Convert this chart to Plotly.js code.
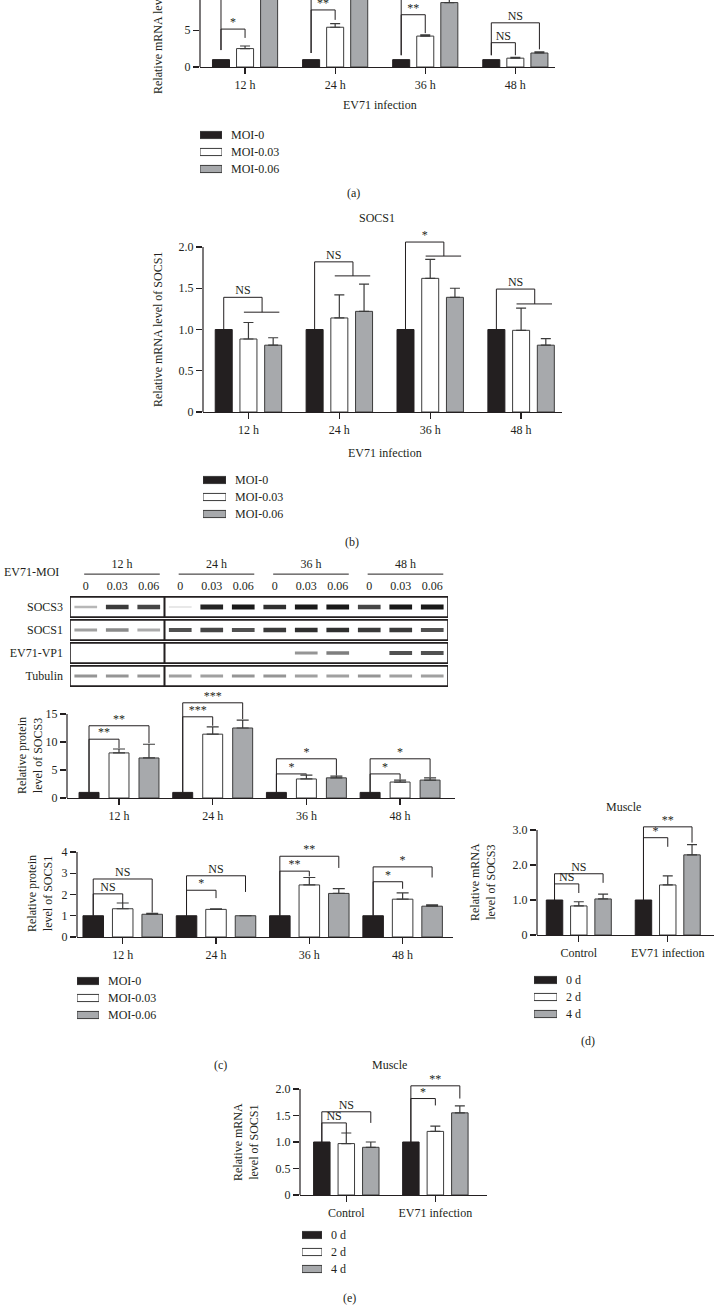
<!DOCTYPE html>
<html>
<head>
<meta charset="utf-8">
<script src="https://cdn.plot.ly/plotly-3.0.1.min.js"></script>
<style>
  body { margin: 0; background: #fff; }
  #fig { width: 714px; height: 1315px; }
</style>
</head>
<body>
<div id="fig"></div>
<script>
// ---- data ----
const timeLabels = ['12 h', '24 h', '36 h', '48 h'];
const tissueLabels = ['Control', 'EV71 infection'];
const moiNames = ['MOI-0', 'MOI-0.03', 'MOI-0.06'];
const dayNames = ['0 d', '2 d', '4 d'];

// (a) SOCS3 mRNA (top of the panel is cropped)
const aMoi0 = [1, 1, 1, 1];
const aMoi003 = [2.5, 5.4, 4.2, 1.2];
const aMoi006 = [12.5, 14.0, 8.75, 1.9];
const aErr003 = [0.35, 0.5, 0.15, 0.1];
const aErr006 = [0.8, 1.0, 0.6, 0.15];
// [group, bar, line height, left end, right end, label]
const aSig = [
  [0, 1, 5.15, 2.3, 3.95, '*'], [0, 2, 13.5, 2.3, 13.6, '**'],
  [1, 1, 7.75, 1.9, 6.4, '**'], [1, 2, 16, 1.9, 15.2, '**'],
  [2, 1, 7.1, 1.6, 4.6, '**'], [2, 2, 11, 1.6, 9.6, '**'],
  [3, 1, 3.3, 1.6, 1.6, 'NS'], [3, 2, 6.0, 1.6, 2.4, 'NS']
];

// (b) SOCS1 mRNA
const bMoi0 = [1, 1, 1, 1];
const bMoi003 = [0.885, 1.14, 1.62, 0.99];
const bMoi006 = [0.81, 1.22, 1.39, 0.81];
const bErr003 = [0.2, 0.28, 0.23, 0.27];
const bErr006 = [0.09, 0.33, 0.11, 0.08];
// [group, upper line, lower line, label]
const bSig = [[0, 1.39, 1.21, 'NS'], [1, 1.82, 1.65, 'NS'], [2, 2.06, 1.89, '*'], [3, 1.49, 1.31, 'NS']];

// (c) western blot, band intensity 0..1 per lane
const laneDoses = ['0', '0.03', '0.06'];
const blotRows = ['SOCS3', 'SOCS1', 'EV71-VP1', 'Tubulin'];
const socs3Band = [0.3, 0.85, 0.8, 0.08, 0.95, 1, 0.9, 1, 1, 0.8, 1, 1];
const socs1Band = [0.4, 0.5, 0.35, 0.75, 0.8, 0.75, 0.85, 0.9, 0.9, 0.85, 0.85, 0.75];
const vp1Band = [0, 0, 0, 0, 0, 0, 0, 0.45, 0.55, 0, 0.75, 0.75];
const tubulinBand = [0.45, 0.45, 0.45, 0.4, 0.4, 0.45, 0.45, 0.4, 0.4, 0.45, 0.4, 0.4];

// (c) relative protein level of SOCS3
const c3Moi0 = [1, 1, 1, 1];
const c3Moi003 = [8.05, 11.4, 3.4, 2.85];
const c3Moi006 = [7.15, 12.5, 3.6, 3.2];
const c3Err003 = [0.7, 1.3, 0.7, 0.35];
const c3Err006 = [2.45, 1.4, 0.3, 0.4];
const c3Sig = [
  [0, 1, 10.5, 1, 8.9, '**'], [0, 2, 12.9, 1, 9.8, '**'],
  [1, 1, 14.5, 1, 12.9, '***'], [1, 2, 17.0, 1, 14.1, '***'],
  [2, 1, 4.3, 1, 4.2, '*'], [2, 2, 7.0, 1, 4.0, '*'],
  [3, 1, 4.3, 1, 3.3, '*'], [3, 2, 7.0, 1, 3.7, '*']
];

// (c) relative protein level of SOCS1
const c1Moi0 = [1, 1, 1, 1];
const c1Moi003 = [1.33, 1.3, 2.45, 1.78];
const c1Moi006 = [1.07, 1.0, 2.05, 1.45];
const c1Err003 = [0.27, 0.03, 0.35, 0.3];
const c1Err006 = [0.04, 0, 0.23, 0.06];
const c1Sig = [
  [0, 1, 2.03, 1, 1.6, 'NS'], [0, 2, 2.73, 1, 1.15, 'NS'],
  [1, 1, 2.2, 1, 1.83, '*'], [1, 2, 2.88, 1, 2.12, 'NS'],
  [2, 1, 3.1, 1, 2.85, '**'], [2, 2, 3.8, 1, 3.25, '**'],
  [3, 1, 2.6, 1, 2.27, '*'], [3, 2, 3.3, 1, 2.8, '*']
];

// (d) muscle SOCS3 mRNA
const dDay0 = [1, 1];
const dDay2 = [0.83, 1.43];
const dDay4 = [1.03, 2.29];
const dErr2 = [0.12, 0.26];
const dErr4 = [0.14, 0.29];
const dSig = [[0, 1, 1.46, 1, 1.2, 'NS'], [0, 2, 1.75, 1, 1.49, 'NS'], [1, 1, 2.78, 1, 2.52, '*'], [1, 2, 3.09, 1, 2.64, '**']];

// (e) muscle SOCS1 mRNA
const eDay0 = [1, 1];
const eDay2 = [0.97, 1.2];
const eDay4 = [0.9, 1.55];
const eErr2 = [0.2, 0.1];
const eErr4 = [0.1, 0.13];
const eSig = [[0, 1, 1.36, 1, 1.17, 'NS'], [0, 2, 1.57, 1, 1.36, 'NS'], [1, 1, 1.82, 1, 1.69, '*'], [1, 2, 2.06, 1, 1.82, '**']];

// ---- styling / layout helpers ----
const W = 714, H = 1315;
const FONT = 'Liberation Serif, Times New Roman, serif';
const INK = '#231f20';
const BLACK = '#231f20', GREY = '#a7a9ac', WHITE = '#ffffff', EDGE = '#3b3b3b';
const px = x => x / W;
const py = y => 1 - y / H;
const txt = { family: FONT, size: 12, color: INK };

let traces = [];
let layout = {
  width: W, height: H,
  margin: { l: 0, r: 0, t: 0, b: 0 },
  paper_bgcolor: '#fff', plot_bgcolor: 'rgba(0,0,0,0)',
  showlegend: false, barmode: 'overlay',
  font: txt,
  annotations: [], shapes: []
};

let axN = 0;
function addAxes(xPix, yPix, xopts, yopts) {
  axN++;
  const sfx = axN === 1 ? '' : String(axN);
  layout['xaxis' + sfx] = Object.assign({ domain: [px(xPix[0]), px(xPix[1])], anchor: 'y' + sfx, fixedrange: true }, xopts);
  layout['yaxis' + sfx] = Object.assign({ domain: [py(yPix[1]), py(yPix[0])], anchor: 'x' + sfx, fixedrange: true }, yopts);
  return { x: 'x' + sfx, y: 'y' + sfx };
}

// box = [left, right, pixel of yMax, pixel of 0]; the plot area reaches up to yTop
// so brackets above the axis stay inside the range, the axis line stops at yMax
function chartAxes(box, cats, xRange, yMax, yTop, yTicks, yFmt) {
  const common = { linecolor: INK, linewidth: 1.2, ticks: 'outside', ticklen: 6, tickcolor: INK, tickwidth: 1.2, showgrid: false, zeroline: false, tickfont: txt };
  const pxPerUnit = (box[3] - box[2]) / yMax;
  const top = box[2] - (yTop - yMax) * pxPerUnit;
  const ax = addAxes([box[0], box[1]], [top, box[3]],
    Object.assign({ range: xRange, tickvals: cats.map((_, i) => i), ticktext: cats, showline: true }, common),
    Object.assign({ range: [0, yTop], tickvals: yTicks, ticktext: yTicks.map(yFmt), showline: false }, common));
  layout.shapes.push({ type: 'line', xref: ax.x + ' domain', yref: ax.y, x0: 0, x1: 0, y0: 0, y1: yMax, line: { color: INK, width: 1.2 } });
  return ax;
}

function barSeries(ax, vals, errs, k, slot, width, color, cap) {
  return {
    type: 'bar', x: vals.map((_, i) => i), y: vals, xaxis: ax.x, yaxis: ax.y,
    width: width, offset: (k - 1) * slot - width / 2,
    marker: { color: color, line: { color: k === 0 ? BLACK : EDGE, width: 1 } },
    error_y: errs ? { type: 'data', array: errs, arrayminus: errs.map(() => 0), symmetric: false, color: EDGE, thickness: 1.2, width: cap } : { visible: false },
    hoverinfo: 'skip'
  };
}

function addBars(ax, series, errs, slot, width, cap) {
  const colors = [BLACK, WHITE, GREY];
  series.forEach((s, k) => traces.push(barSeries(ax, s, errs[k], k, slot, width, colors[k], cap)));
}

function sigLabels(ax, xs, ys, labels) {
  traces.push({
    type: 'scatter', mode: 'text', xaxis: ax.x, yaxis: ax.y, cliponaxis: false, hoverinfo: 'skip',
    x: xs, y: ys, text: labels, textposition: 'top center', textfont: txt
  });
}

function addSig(ax, sig, slot) {
  const xs = [], ys = [];
  sig.forEach(([g, k, yl, y0, y1]) => {
    const xa = g - slot, xb = g + (k - 1) * slot;
    xs.push(xa, xa, xb, xb, null);
    ys.push(y0, yl, yl, y1, null);
  });
  traces.push({ type: 'scatter', mode: 'lines', x: xs, y: ys, xaxis: ax.x, yaxis: ax.y, line: { color: INK, width: 1 }, cliponaxis: false, hoverinfo: 'skip' });
  sigLabels(ax, sig.map(s => s[0] - slot + s[1] * slot / 2), sig.map(s => s[2]), sig.map(s => s[5]));
}

function addGroupSig(ax, sig, slot) {
  const xs = [], ys = [];
  sig.forEach(([g, yu, ylo]) => {
    const xa = g - slot, xm = g + 0.15;
    xs.push(xa, xa, xm, xm, null, g - 0.05, g + 0.34, null);
    ys.push(1, yu, yu, ylo, null, ylo, ylo, null);
  });
  traces.push({ type: 'scatter', mode: 'lines', x: xs, y: ys, xaxis: ax.x, yaxis: ax.y, line: { color: INK, width: 1 }, cliponaxis: false, hoverinfo: 'skip' });
  sigLabels(ax, sig.map(s => s[0] - slot / 2 + 0.075), sig.map(s => s[1]), sig.map(s => s[3]));
}

function legendBlock(names, xPix, yc) {
  const ax = addAxes(xPix, [yc - 25.5, yc + 25.5],
    { range: [0, 1], visible: false },
    { range: [2.5, -0.5], tickvals: [0, 1, 2], ticktext: names, side: 'right', showline: false, showgrid: false, zeroline: false, ticks: '', ticklabelstandoff: 8, tickfont: txt });
  traces.push({
    type: 'bar', orientation: 'h', x: names.map(() => 1), y: names.map((_, i) => i), width: 0.42,
    marker: { color: [BLACK, WHITE, GREY], line: { color: EDGE, width: 1 } },
    xaxis: ax.x, yaxis: ax.y, hoverinfo: 'skip'
  });
}

function note(text, x, y, opts) {
  layout.annotations.push(Object.assign({
    text: text, x: px(x), y: py(y), xref: 'paper', yref: 'paper', showarrow: false,
    xanchor: 'center', yanchor: 'middle', font: txt
  }, opts || {}));
}

const intFmt = v => String(v);
const decFmt = v => v === 0 ? '0' : v.toFixed(1);

// ---- (a) ----
const axA = chartAxes([200, 555, 0, 67], timeLabels, [-0.5, 3.44], 9.1, 9.1, [0, 5, 10], intFmt);
addBars(axA, [aMoi0, aMoi003, aMoi006], [null, aErr003, aErr006], 0.267, 0.189, 5);
addSig(axA, aSig, 0.267);
note('Relative mRNA level of SOCS3', 158, 17, { textangle: -90 });
note('EV71 infection', 380, 105);
legendBlock(moiNames, [200, 222], 152);
note('(a)', 353, 193);

// ---- (b) ----
const axB = chartAxes([203, 562, 247, 412], timeLabels, [-0.5, 3.45], 2, 2.35, [0, 0.5, 1, 1.5, 2], decFmt);
addBars(axB, [bMoi0, bMoi003, bMoi006], [null, bErr003, bErr006], 0.272, 0.187, 5);
addGroupSig(axB, bSig, 0.272);
note('SOCS1', 377, 218);
note('Relative mRNA level of SOCS1', 158, 330, { textangle: -90 });
note('EV71 infection', 385, 453);
legendBlock(moiNames, [203, 226], 497);
note('(b)', 352, 542);

// ---- (c) western blot ----
const bands = [socs3Band, socs1Band, vp1Band, tubulinBand];
const nLanes = socs3Band.length;
const rowTop = -2.3;   // headroom above the first row for the headers
const axW = addAxes([70, 448], [595.5 + rowTop * 23 + 0.5 * 23, 687.5],
  { range: [0, nLanes], visible: false },
  { range: [blotRows.length - 0.5, rowTop], showline: false, showgrid: false, zeroline: false, ticks: '',
    tickvals: blotRows.map((_, i) => i), ticktext: blotRows, ticklabelstandoff: 6, tickfont: txt });
bands.forEach((row, r) => {
  const thick = row.map(v => v > 0 ? 0.07 + 0.15 * v : 0);
  traces.push({
    type: 'bar', x: row.map((_, i) => i + 0.5), y: thick, base: thick.map(t => r - t / 2),
    width: 0.72, xaxis: axW.x, yaxis: axW.y, hoverinfo: 'skip',
    marker: { color: row.map(v => { const g = Math.round(250 - 225 * v); return `rgb(${g},${g},${g})`; }), line: { width: 0 } }
  });
});
blotRows.forEach((_, r) => {
  [[0, 3], [3, nLanes]].forEach(([l0, l1]) => {
    layout.shapes.push({ type: 'rect', xref: axW.x, yref: axW.y, x0: l0, x1: l1, y0: r - 0.44, y1: r + 0.44, line: { color: INK, width: 1.6 }, fillcolor: 'rgba(0,0,0,0)' });
  });
});
{
  // dose per lane
  traces.push({
    type: 'scatter', mode: 'text', x: socs3Band.map((_, i) => i + 0.5), y: socs3Band.map(() => -0.87),
    text: socs3Band.map((_, i) => laneDoses[i % 3]), textposition: 'middle center', textfont: txt,
    xaxis: axW.x, yaxis: axW.y, cliponaxis: false, hoverinfo: 'skip'
  });
  // time headers with underlines
  const xs = [], ys = [];
  timeLabels.forEach((_, g) => { xs.push(g * 3 + 0.45, g * 3 + 2.85, null); ys.push(-1.43, -1.43, null); });
  traces.push({ type: 'scatter', mode: 'lines', x: xs, y: ys, xaxis: axW.x, yaxis: axW.y, line: { color: INK, width: 1 }, cliponaxis: false, hoverinfo: 'skip' });
  traces.push({
    type: 'scatter', mode: 'text', x: timeLabels.map((_, g) => g * 3 + 1.65), y: timeLabels.map(() => -1.83),
    text: timeLabels, textposition: 'middle center', textfont: txt,
    xaxis: axW.x, yaxis: axW.y, cliponaxis: false, hoverinfo: 'skip'
  });
}
note('EV71-MOI', 61, 572, { xanchor: 'right' });

// ---- (c) SOCS3 protein ----
const axC3 = chartAxes([67, 455, 714, 798], timeLabels, [-0.555, 3.586], 15, 19.5, [0, 5, 10, 15], intFmt);
addBars(axC3, [c3Moi0, c3Moi003, c3Moi006], [null, c3Err003, c3Err006], 0.32, 0.213, 6);
addSig(axC3, c3Sig, 0.32);
note('Relative protein<br>level of SOCS3', 30, 756, { textangle: -90 });

// ---- (c) SOCS1 protein ----
const axC1 = chartAxes([77, 453, 852, 937], timeLabels, [-0.49, 3.54], 4, 4.5, [0, 1, 2, 3, 4], intFmt);
addBars(axC1, [c1Moi0, c1Moi003, c1Moi006], [null, c1Err003, c1Err006], 0.316, 0.22, 6);
addSig(axC1, c1Sig, 0.316);
note('Relative protein<br>level of SOCS1', 40, 894, { textangle: -90 });
legendBlock(moiNames, [77, 99], 998);
note('(c)', 220, 1065);

// ---- (d) ----
const axD = chartAxes([537, 714, 830, 935], tissueLabels, [-0.47, 1.52], 3, 3.45, [0, 1, 2, 3], decFmt);
addBars(axD, [dDay0, dDay2, dDay4], [null, dErr2, dErr4], 0.273, 0.185, 5);
addSig(axD, dSig, 0.273);
note('Muscle', 623, 807);
note('Relative mRNA<br>level of SOCS3', 483, 882, { textangle: -90 });
legendBlock(dayNames, [534, 557], 997);
note('(d)', 588, 1041);

// ---- (e) ----
const axE = chartAxes([300, 487, 1089, 1195], tissueLabels, [-0.52, 1.58], 2, 2.3, [0, 0.5, 1, 1.5, 2], decFmt);
addBars(axE, [eDay0, eDay2, eDay4], [null, eErr2, eErr4], 0.275, 0.185, 5);
addSig(axE, eSig, 0.275);
note('Muscle', 390, 1065);
note('Relative mRNA<br>level of SOCS1', 246, 1142, { textangle: -90 });
legendBlock(dayNames, [302, 322], 1252);
note('(e)', 349, 1298);

Plotly.newPlot('fig', traces, layout, { staticPlot: true, displayModeBar: false });
</script>
</body>
</html>
